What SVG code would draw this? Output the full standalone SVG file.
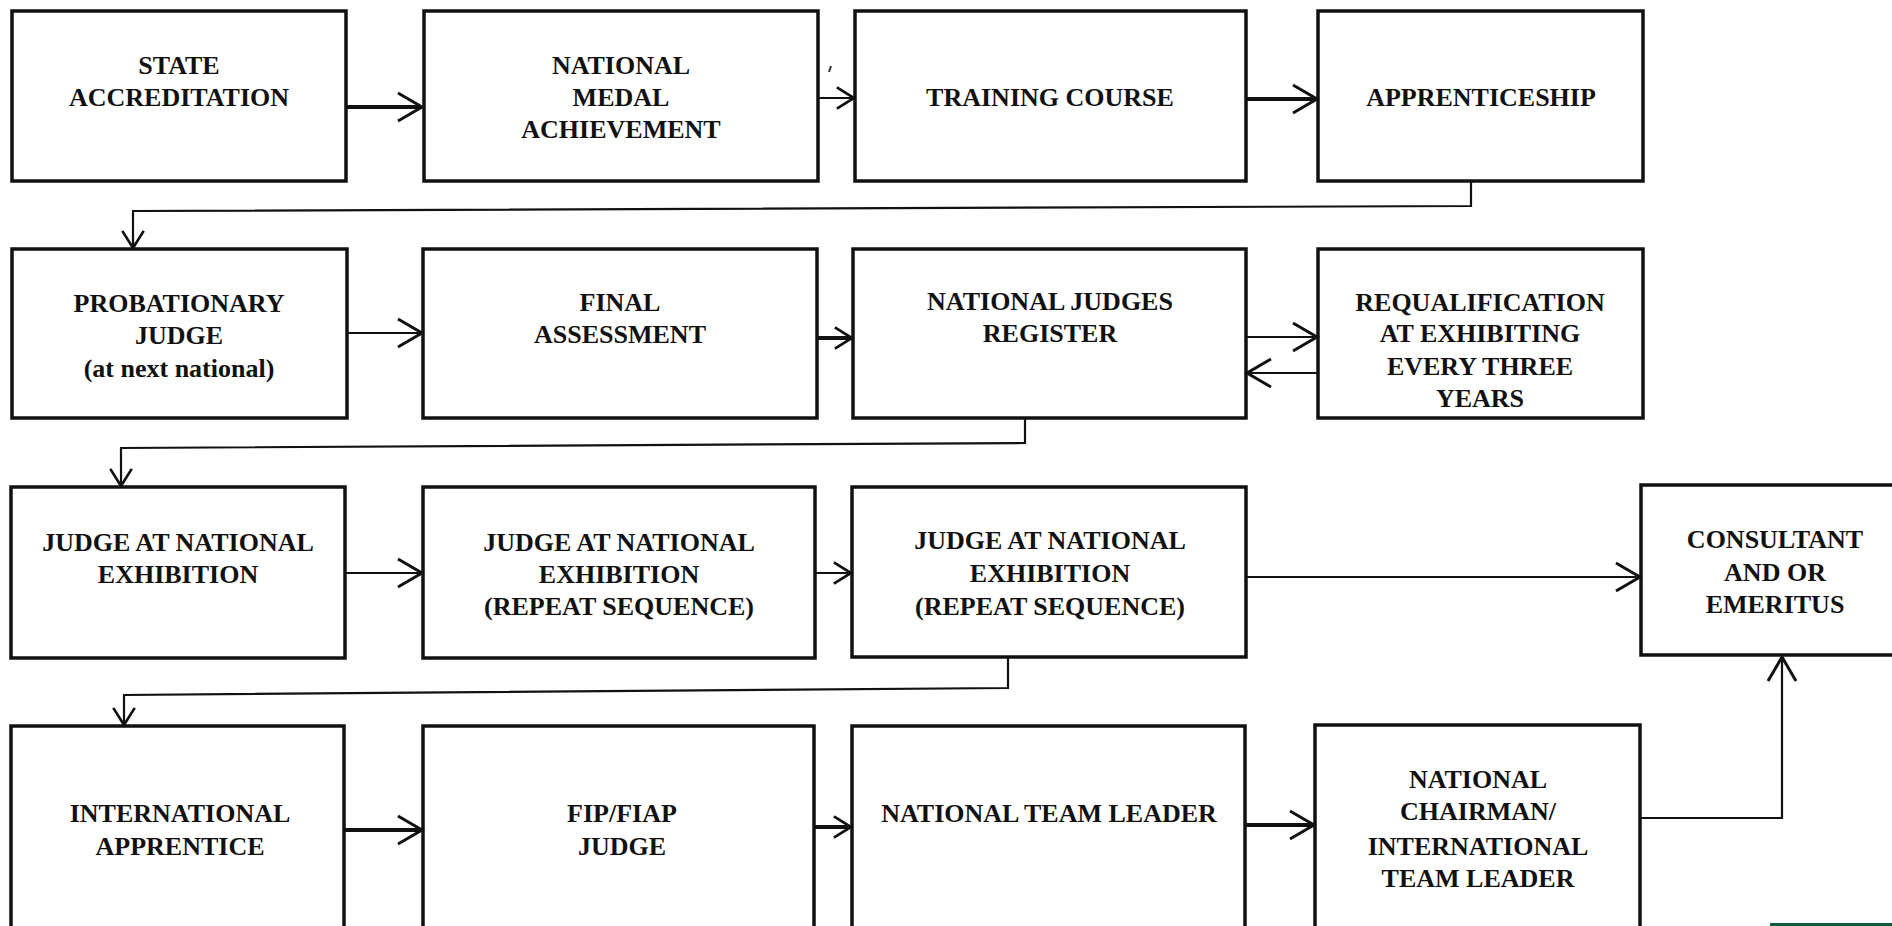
<svg xmlns="http://www.w3.org/2000/svg" width="1892" height="926" viewBox="0 0 1892 926">
<style>
.box{fill:#fff;stroke:#111;stroke-width:3.5}
.t{font-family:"Liberation Serif","Times New Roman",serif;font-weight:bold;font-size:26px;fill:#111;text-anchor:middle}
.c{fill:none;stroke:#111;stroke-width:2.2;stroke-linejoin:miter}
.h{stroke-width:4}
</style>
<defs>
<marker id="aL" markerUnits="userSpaceOnUse" markerWidth="40" markerHeight="40" viewBox="-30 -20 34 40" refX="0" refY="0" orient="auto">
<path d="M-24,-14 L0,0 L-24,14" fill="none" stroke="#111" stroke-width="3"/>
</marker>
<marker id="aS" markerUnits="userSpaceOnUse" markerWidth="30" markerHeight="30" viewBox="-22 -14 26 28" refX="0" refY="0" orient="auto">
<path d="M-16,-10 L0,0 L-16,10" fill="none" stroke="#111" stroke-width="2.5"/>
</marker>
</defs>
<rect width="1892" height="926" fill="#fff"/>

<g id="n-state"><rect class="box" x="12" y="11" width="334" height="170"/><text class="t" x="179" y="74">STATE</text><text class="t" x="179" y="106">ACCREDITATION</text></g>
<g id="n-medal"><rect class="box" x="424" y="11" width="394" height="170"/><text class="t" x="621" y="74">NATIONAL</text><text class="t" x="621" y="106">MEDAL</text><text class="t" x="621" y="138">ACHIEVEMENT</text></g>
<g id="n-training"><rect class="box" x="855" y="11" width="391" height="170"/><text class="t" x="1050" y="106">TRAINING COURSE</text></g>
<g id="n-apprentice"><rect class="box" x="1318" y="11" width="325" height="170"/><text class="t" x="1481" y="106">APPRENTICESHIP</text></g>

<g id="n-probationary"><rect class="box" x="12" y="249" width="335" height="169"/><text class="t" x="179" y="312">PROBATIONARY</text><text class="t" x="179" y="344">JUDGE</text><text class="t" x="179" y="377">(at next national)</text></g>
<g id="n-final"><rect class="box" x="423" y="249" width="394" height="169"/><text class="t" x="620" y="311">FINAL</text><text class="t" x="620" y="343">ASSESSMENT</text></g>
<g id="n-register"><rect class="box" x="853" y="249" width="393" height="169"/><text class="t" x="1050" y="310">NATIONAL JUDGES</text><text class="t" x="1050" y="342">REGISTER</text></g>
<g id="n-requal"><rect class="box" x="1318" y="249" width="325" height="169"/><text class="t" x="1480" y="311">REQUALIFICATION</text><text class="t" x="1480" y="342">AT EXHIBITING</text><text class="t" x="1480" y="375">EVERY THREE</text><text class="t" x="1480" y="407">YEARS</text></g>

<g id="n-judge1"><rect class="box" x="11" y="487" width="334" height="171"/><text class="t" x="178" y="551">JUDGE AT NATIONAL</text><text class="t" x="178" y="583">EXHIBITION</text></g>
<g id="n-judge2"><rect class="box" x="423" y="487" width="392" height="171"/><text class="t" x="619" y="551">JUDGE AT NATIONAL</text><text class="t" x="619" y="583">EXHIBITION</text><text class="t" x="619" y="615">(REPEAT SEQUENCE)</text></g>
<g id="n-judge3"><rect class="box" x="852" y="487" width="394" height="170"/><text class="t" x="1050" y="549">JUDGE AT NATIONAL</text><text class="t" x="1050" y="582">EXHIBITION</text><text class="t" x="1050" y="615">(REPEAT SEQUENCE)</text></g>
<g id="n-consultant"><rect class="box" x="1641" y="485" width="270" height="170"/><text class="t" x="1775" y="548">CONSULTANT</text><text class="t" x="1775" y="581">AND OR</text><text class="t" x="1775" y="613">EMERITUS</text></g>

<g id="n-intapp"><rect class="box" x="11" y="726" width="333" height="230"/><text class="t" x="180" y="822">INTERNATIONAL</text><text class="t" x="180" y="855">APPRENTICE</text></g>
<g id="n-fip"><rect class="box" x="423" y="726" width="391" height="230"/><text class="t" x="622" y="822">FIP/FIAP</text><text class="t" x="622" y="855">JUDGE</text></g>
<g id="n-teamleader"><rect class="box" x="852" y="726" width="393" height="230"/><text class="t" x="1049" y="822">NATIONAL TEAM LEADER</text></g>
<g id="n-chairman"><rect class="box" x="1315" y="725" width="325" height="230"/><text class="t" x="1478" y="788">NATIONAL</text><text class="t" x="1478" y="820">CHAIRMAN/</text><text class="t" x="1478" y="855">INTERNATIONAL</text><text class="t" x="1478" y="887">TEAM LEADER</text></g>

<g id="connectors">
<path class="c h" d="M346,107 L422,107" marker-end="url(#aL)"/>
<path class="c" d="M818,98 L854,98" marker-end="url(#aS)"/>
<path class="c h" d="M1246,99 L1317,99" marker-end="url(#aL)"/>
<path class="c" d="M1471,181 L1471,206 L133,211 L133,248" marker-end="url(#aS)"/>
<path class="c" d="M347,333 L422,333" marker-end="url(#aL)"/>
<path class="c h" d="M817,338 L852,338" marker-end="url(#aS)"/>
<path class="c" d="M1246,337 L1317,337" marker-end="url(#aL)"/>
<path class="c" d="M1318,373 L1247,373" marker-end="url(#aL)"/>
<path class="c" d="M1025,418 L1025,443 L121,448 L121,486" marker-end="url(#aS)"/>
<path class="c" d="M345,573 L422,573" marker-end="url(#aL)"/>
<path class="c" d="M815,573 L851,573" marker-end="url(#aS)"/>
<path class="c" d="M1246,577 L1640,577" marker-end="url(#aL)"/>
<path class="c" d="M1008,657 L1008,688 L124,695 L124,725" marker-end="url(#aS)"/>
<path class="c h" d="M344,830 L422,830" marker-end="url(#aL)"/>
<path class="c h" d="M814,827 L851,827" marker-end="url(#aS)"/>
<path class="c h" d="M1245,825 L1314,825" marker-end="url(#aL)"/>
<path class="c" d="M1640,818 L1782,818 L1782,657" marker-end="url(#aL)"/>
</g>
<line x1="831" y1="66" x2="829" y2="72" stroke="#333" stroke-width="2"/>
<rect x="1770" y="923" width="122" height="3" fill="#0b5a3a"/>
</svg>
